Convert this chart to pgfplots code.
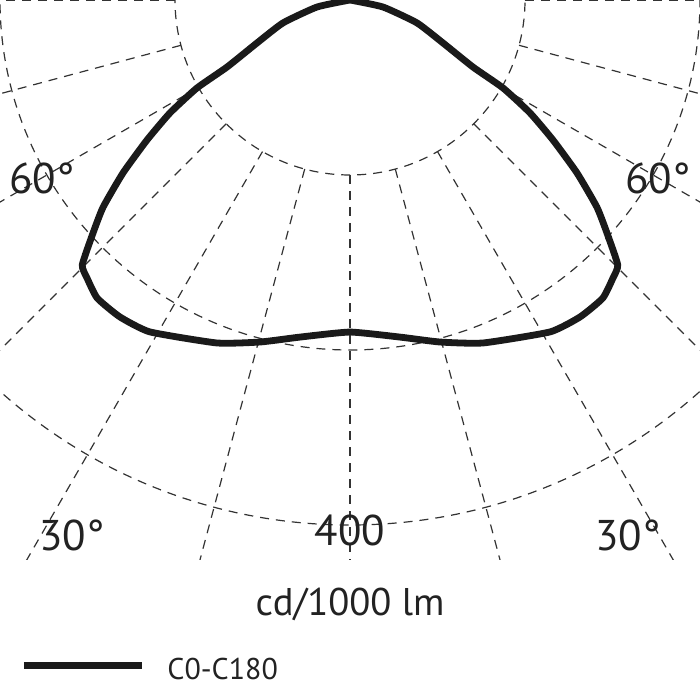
\documentclass[border=0pt]{standalone}
\usepackage{pgfplots}
\pgfplotsset{compat=1.18}
\usepackage{fontspec}
\setmainfont{PT Sans}
\definecolor{gridc}{HTML}{333333}
\definecolor{curvec}{HTML}{1A1A1A}
\definecolor{textc}{HTML}{222222}
\begin{document}
\begin{tikzpicture}
\begin{axis}[
  at={(0pt,0pt)}, anchor=origin,
  x=0.65625pt, y=0.65625pt,
  xmin=-266.67, xmax=266.67, ymin=-425.9, ymax=0.8,
  hide axis, clip=true, scale only axis,
]
\pgfplotsinvokeforeach{-180,-165,...,0}{
  \draw[gridc, line width=0.6pt, dash pattern=on 4.5pt off 3.5pt] (axis cs:0,0) ++(#1:87.5pt) -- ++(#1:420pt);
}
\draw[gridc, line width=0.6pt, dash pattern=on 4.5pt off 3.5pt] (axis cs:0,0) circle[radius=87.5pt];
\draw[gridc, line width=0.6pt, dash pattern=on 4.5pt off 3.5pt] (axis cs:0,0) circle[radius=175pt];
\draw[gridc, line width=0.6pt, dash pattern=on 4.5pt off 3.5pt] (axis cs:0,0) circle[radius=262.5pt];
\addplot[curvec, line width=3.4pt, smooth, tension=0.3, line join=round, data cs=polar] coordinates {
(-180,0) (-168.0,25.7) (-161.1,54.0) (-155.2,78.1) (-151.4,106.7) (-150.1,134.5)
(-147.9,161.9) (-145.4,187.9) (-142.7,217.4) (-140.0,245.6) (-137.8,264.3)
(-135.3,287.0) (-133.4,291.6) (-130.3,297.8) (-126.0,298.4) (-121.1,295.3)
(-111.2,280.3) (-104.7,269.4) (-98.4,259.6) (-90,253.0)
(-81.6,259.6) (-75.3,269.4) (-68.8,280.3) (-58.9,295.3) (-54.0,298.4)
(-49.7,297.8) (-46.6,291.6) (-44.7,287.0) (-42.2,264.3) (-40.0,245.6)
(-37.3,217.4) (-34.6,187.9) (-32.1,161.9) (-29.9,134.5) (-28.6,106.7)
(-24.8,78.1) (-18.9,54.0) (-12.0,25.7) (0,0)
};
\end{axis}
\begin{scope}[every node/.style={text=textc, inner sep=0pt, anchor=base}]
\node[font=\fontsize{21.5}{24}\selectfont] at (-154pt,-96.5pt) {60°};
\node[font=\fontsize{21.5}{24}\selectfont] at (154pt,-96.5pt) {60°};
\node[font=\fontsize{21.5}{24}\selectfont] at (-139pt,-275pt) {30°};
\node[font=\fontsize{21.5}{24}\selectfont] at (139pt,-275pt) {30°};
\node[font=\fontsize{21.5}{24}\selectfont] at (0pt,-272.5pt) {400};
\node[font=\fontsize{19.3}{22}\selectfont] at (0pt,-307.5pt) {cd/1000 lm};
\node[font=\fontsize{15}{18}\selectfont, anchor=base west] at (-91.5pt,-339.5pt) {C0-C180};
\end{scope}
\draw[curvec, line width=3.5pt] (-163pt,-332.5pt) -- (-104pt,-332.5pt);
\pgfresetboundingbox
\useasboundingbox (-175pt,0pt) rectangle (175pt,-350pt);
\end{tikzpicture}
\end{document}
